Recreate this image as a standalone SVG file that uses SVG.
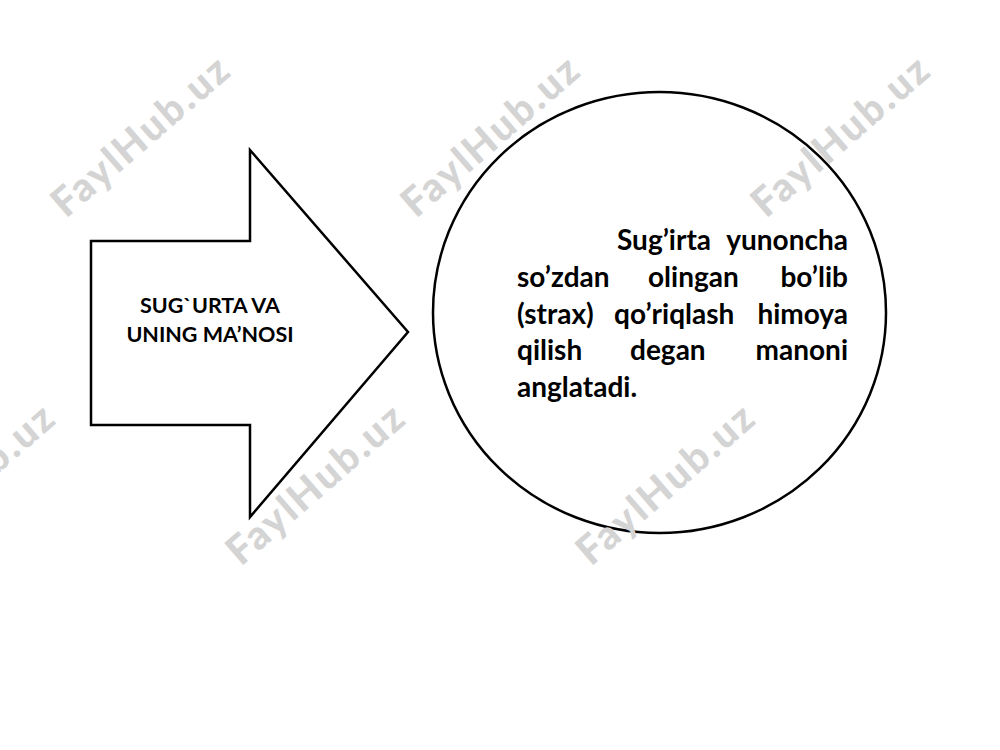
<svg xmlns="http://www.w3.org/2000/svg" width="1000" height="750" viewBox="0 0 1000 750">
<style>
.shape{fill:#ffffff;stroke:#000000;stroke-width:2.5;stroke-linejoin:miter}
.lbl{font-family:Lato,"Liberation Sans",sans-serif;font-weight:bold;fill:#000000}
.wm{font-family:Lato,"Liberation Sans",sans-serif;font-weight:900;font-size:40px;letter-spacing:2.5px;fill:#d4d4d4;text-anchor:middle}
</style>
<rect x="0" y="0" width="1000" height="750" fill="#ffffff"/>
<g id="arrow-node">
<polygon class="shape" points="91,241 250,241 250,150 408,332 250,517 250,425 91,425"/>
<text class="lbl" font-size="21.5" text-anchor="middle"><tspan x="210" y="313">SUG`URTA VA</tspan><tspan x="210" y="342">UNING MA’NOSI</tspan></text>
</g>
<g id="ellipse-node">
<ellipse class="shape" cx="659.5" cy="312.5" rx="226.5" ry="220.5"/>
<g class="lbl" font-size="28">
<text x="617" y="250">Sug’irta</text>
<text x="848" y="250" text-anchor="end">yunoncha</text>
<text x="517" y="287">so’zdan</text>
<text x="648" y="287">olingan</text>
<text x="848" y="287" text-anchor="end">bo’lib</text>
<text x="517" y="324">(strax)</text>
<text x="614" y="324">qo’riqlash</text>
<text x="848" y="324" text-anchor="end">himoya</text>
<text x="517" y="360">qilish</text>
<text x="630" y="360">degan</text>
<text x="848" y="360" text-anchor="end">manoni</text>
<text x="517" y="397">anglatadi.</text>
</g>
</g>
<g id="connectors"></g>
<g id="watermarks">
<text class="wm" transform="translate(150,146) rotate(-41)">FaylHub.uz</text>
<text class="wm" transform="translate(500,146) rotate(-41)">FaylHub.uz</text>
<text class="wm" transform="translate(850,146) rotate(-41)">FaylHub.uz</text>
<text class="wm" transform="translate(-25,494) rotate(-41)">FaylHub.uz</text>
<text class="wm" transform="translate(325,494) rotate(-41)">FaylHub.uz</text>
<text class="wm" transform="translate(675,494) rotate(-41)">FaylHub.uz</text>
</g>
</svg>
